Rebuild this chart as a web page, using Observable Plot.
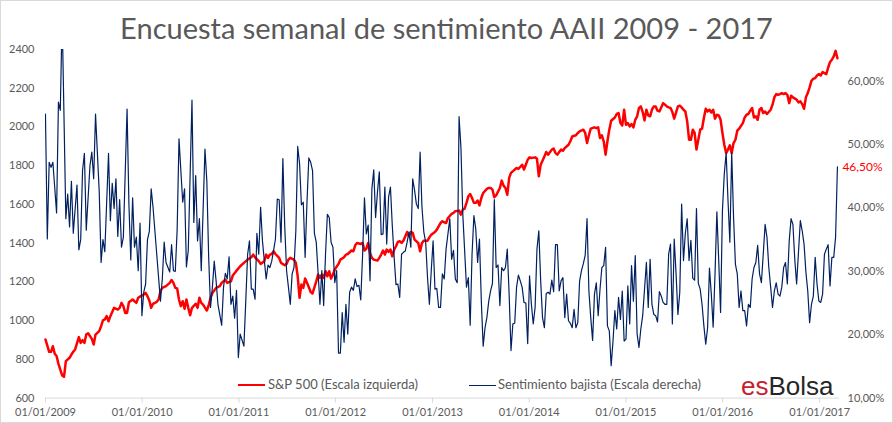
<!DOCTYPE html>
<html>
<head>
<meta charset="utf-8">
<script src="https://cdn.jsdelivr.net/npm/d3@7"></script>
<script src="https://cdn.jsdelivr.net/npm/@observablehq/plot@0.6"></script>
<style>
  html, body { margin: 0; padding: 0; background: #fff; }
  #wrap { position: relative; width: 891px; height: 421px; border: 1px solid #d9d9d9; overflow: hidden; font-family: Lato, "Open Sans", sans-serif; color: #595959; }
  #title { position: absolute; left: 0; top: 9px; width: 891px; text-align: center; font-size: 29px; line-height: 36px; color: #595959; white-space: nowrap; }
  #chart { position: absolute; left: -1px; top: 39px; }
  .leg { position: absolute; font-size: 13px; line-height: 15px; color: #595959; white-space: nowrap; }
  .legline { position: absolute; height: 0; }
  #logo { position: absolute; left: 740px; top: 372px; font-family: "Liberation Sans", Arial, sans-serif; font-size: 26px; line-height: 26px; white-space: nowrap; }
</style>
</head>
<body>
<div id="wrap">
  <div id="title">Encuesta semanal de sentimiento AAII 2009 - 2017</div>
  <div id="chart"></div>
  <div class="legline" style="left:237px; top:383px; width:27px; border-top:2.5px solid #ff0000;"></div>
  <div class="leg" style="left:267px; top:376px;">S&amp;P 500 (Escala izquierda)</div>
  <div class="legline" style="left:468px; top:384px; width:27px; border-top:1.3px solid #002060;"></div>
  <div class="leg" style="left:497px; top:376px;">Sentimiento bajista (Escala derecha)</div>
  <div id="logo"><span style="color:#c8202a">es</span><span style="color:#262626">Bolsa</span></div>
</div>
<script>
// ---- Data (weekly, week index counted from 01/01/2009) ----
const startDate = "2009-01-01";
const endDate = "2017-03-17";

const leftTicks = [600, 800, 1000, 1200, 1400, 1600, 1800, 2000, 2200, 2400];
const rightTicks = [10, 20, 30, 40, 50, 60];
const rightDomain = [10, 65];
const yearTicks = ["2009-01-01","2010-01-01","2011-01-01","2012-01-01","2013-01-01","2014-01-01","2015-01-01","2016-01-01","2017-01-01"];

// S&P 500 (left scale)
const spWeek = [0,2,3,4,5,6,7,9,10,11,13,14,15,16,18,19,20,21,22,23,25,26,27,29,30,31,32,33,34,35,36,37,39,40,41,42,43,44,45,47,48,49,50,51,53,54,55,56,57,58,60,61,62,63,65,67,68,69,70,71,72,73,74,75,76,77,78,79,81,82,83,84,85,87,88,89,90,92,94,95,97,98,100,101,103,105,
107,109,111,112,113,115,116,118,119,120,121,122,123,124,126,127,129,130,131,132,134,135,136,137,138,139,140,141,142,143,144,146,147,148,149,150,151,152,153,154,155,156,158,159,161,162,163,165,166,167,168,170,171,172,173,174,175,176,177,179,180,181,182,183,184,185,186,187,188,189,190,191,192,193,195,196,197,198,199,201,202,203,204,206,207,208,210,211,212,213,214,216,217,219,220,221,223,224,225,226,227,228,229,230,231,232,233,234,235,236,238,239,240,241,242,243,245,246,247,248,249,250,251,253,254,255,257,258,259,260,261,262,264,265,266,267,268,269,270,271,273,274,275,276,277,278,279,280,282,283,284,286,287,288,290,291,292,293,294,296,297,298,299,300,301,302,303,304,305,307,308,309,310,311,312,313,314,315,316,317,318,319,320,321,322,323,324,325,326,327,328,329,330,331,332,333,334,335,336,337,338,339,341,342,343,344,345,346,347,348,349,350,351,353,354,355,356,357,358,359,360,361,362,363,364,365,366,367,368,369,370,371,372,373,374,376,377,378,379,380,381,382,383,384,385,386,387,388,389,391,392,393,394,395,396,397,398,399,400,401,402,403,405,406,407,408,409,410,411,412,413,414,415,416,417,418,419,421,422,423,424,425,426,427];
const spValue = [903,839,839,868,829,817,777,717,710,791,808,825,839,851,915,885,899,885,928,935,906,877,928,946,971,1001,1006,1023,997,1023,1045,1066,1057,1066,1092,1075,1040,1040,1095,1109,1100,1092,1118,1124,1135,1143,1126,1104,1066,1087,1097,1109,1152,1169,1178,1195,1210,1195,1169,1166,1109,1075,1100,1061,1109,1066,1028,1066,1087,1066,1118,1092,1083,1052,1078,1118,1143,1169,1178,1195,1212,1195,1203,1233,1258,1281,
1298,1315,1327,1341,1327,1307,1293,1307,1341,1324,1341,1344,1358,1344,1324,1298,1286,1293,1315,1324,1315,1298,1229,1118,1186,1169,1217,1195,1172,1148,1140,1203,1238,1221,1238,1221,1255,1229,1255,1217,1238,1264,1293,1315,1327,1341,1344,1362,1358,1389,1401,1396,1401,1362,1372,1401,1350,1324,1315,1310,1324,1341,1362,1341,1367,1355,1367,1332,1367,1384,1406,1410,1401,1413,1458,1436,1458,1453,1418,1401,1358,1401,1413,1413,1430,1444,1458,1470,1487,1504,1513,1504,1530,1551,1556,1565,1568,1547,1573,1578,1608,1642,1654,1633,1608,1608,1620,1595,1633,1659,1680,1685,1685,1676,1637,1647,1685,1723,1697,1685,1650,1737,1763,1780,1788,1783,1805,1780,1805,1831,1843,1840,1843,1836,1745,1805,1826,1848,1871,1857,1883,1888,1865,1857,1871,1883,1877,1891,1908,1926,1951,1957,1969,1977,1986,1969,1917,1957,1991,1998,1994,1998,1943,1957,1926,1857,1926,1986,2032,2049,2067,2072,2020,2008,2089,2011,2020,2003,2015,1998,2037,2055,2098,2106,2077,2034,2089,2060,2055,2089,2106,2106,2084,2080,2101,2123,2115,2106,2101,2098,2077,2043,2106,2110,2101,2089,2080,2029,1934,1934,1986,1969,1883,1986,1991,2046,2094,2080,2089,2075,2089,2043,2063,2060,2037,1969,1908,1865,1883,1905,1865,1917,1934,1981,1991,2020,2049,2063,2067,2084,2098,2049,2055,2037,2089,2098,2072,2080,2067,2089,2115,2153,2170,2166,2170,2175,2170,2175,2166,2123,2161,2153,2141,2127,2132,2118,2094,2153,2175,2204,2238,2249,2252,2266,2273,2266,2283,2273,2307,2335,2347,2364,2393,2355];

// AAII bearish sentiment, % (right scale)
const bearWeek = [0,1,2,3,4,6,7,8,9,11,12,13,14,15,17,18,19,20,21,22,24,25,26,27,29,30,31,32,34,35,36,37,38,39,40,41,42,44,45,46,47,48,49,50,51,52,53,54,55,56,57,58,60,62,63,64,65,67,68,69,70,71,72,74,75,76,77,79,80,81,82,83,84,86,87,88,89,90,91,92,93,95,96,97,98,99,100,101,102,103,104,105,
107,108,109,110,111,112,113,114,115,116,117,118,119,120,121,122,123,124,125,126,127,128,129,130,131,132,133,134,135,136,137,138,139,140,141,142,143,144,145,146,148,149,150,151,152,153,154,155,156,157,158,159,160,161,162,163,164,165,166,167,168,169,170,171,172,173,174,175,176,177,178,179,180,181,182,183,184,185,186,187,188,189,190,191,192,193,194,195,196,197,198,199,200,201,202,203,204,205,206,207,208,209,210,211,212,213,214,215,216,218,219,220,221,222,223,224,225,227,228,229,230,231,232,233,234,235,236,237,238,239,240,241,242,243,244,245,246,247,248,249,250,251,252,253,254,255,256,257,258,259,260,261,262,263,264,265,266,267,268,269,270,271,272,273,274,275,276,277,278,279,280,281,282,283,284,285,286,287,288,289,290,291,292,293,294,295,296,297,298,299,300,301,302,303,304,305,306,307,308,309,310,311,312,313,314,315,316,317,318,319,320,321,322,324,325,326,327,328,329,330,331,332,333,334,335,336,337,338,339,340,341,342,343,344,345,346,
347,348,349,350,351,352,353,354,355,356,357,358,359,360,361,362,363,364,365,366,367,368,369,370,371,372,373,374,375,376,377,378,379,380,381,382,383,384,385,386,387,388,389,390,391,392,393,394,395,396,397,398,399,400,401,402,403,404,405,406,407,408,409,410,411,412,413,414,415,416,417,418,419,420,421,422,423,424,425,426,427];
const bearPct = [54.8,35.1,47.2,46.4,47.2,39.2,56.7,55.4,70.3,38.3,42.2,37,44.2,36,43.6,33.4,35,45.9,48.6,36.5,46.7,48.8,44.6,54.8,42.5,31.4,35,33.1,48.6,38,43.9,39.9,44.6,35.5,41.3,33.8,35.4,55.6,40.6,31.8,41.6,33.8,35.4,30.1,37.6,23,26.7,28,35,36.3,43,40.1,32.7,25.3,28.8,34.6,31.4,29.9,34.2,30.1,30,36.5,50.9,40.9,43,30.7,33.3,57,37.7,45.1,34.8,38.3,30.1,49.3,44.3,32.2,24.3,27.5,31.6,28.5,24.8,21.5,27.5,29.7,28.8,32.3,24.8,26.1,22.6,27,16.4,20.1,
18.2,25.3,32.7,34.8,27.2,27.2,25.6,36,32.7,40.1,34.8,31.7,28.8,31,30.6,31.6,33.3,35.1,41.4,41.3,34.6,47.8,37.2,30.1,27.5,24.8,29.6,30.6,36.4,49.7,47,40.5,40.9,32.2,40.9,47.9,47.2,45.9,36,34.6,24.8,30.1,24.6,32.7,39,38.5,34.6,33.8,28.2,30.1,17.1,17.1,23.5,18.8,24.8,20.1,26.7,27.5,27,28.8,27.6,27.8,25.5,32.7,41.6,35.9,37.3,28.5,43,46,38.5,42.5,45.7,35.8,35.9,43.3,34.3,41.7,43.3,37.2,32.2,27.9,28,25.9,32.7,33,33.2,34.6,36.2,33.8,44.6,42.8,40.6,39.9,48.8,40.1,36.2,34.6,29,24.8,30.1,34.8,27.2,27.3,24.3,24.3,29.6,28.8,33.5,38.3,31.9,33.3,28.8,28.2,54.4,49.6,39.1,27.5,29,21.5,32.7,38.8,36.7,31.4,35.1,25.3,18.2,21.1,22.7,25.3,26.9,28.1,41.3,30.6,31,24.6,30.6,30.1,30.6,33.5,26.3,17.5,21.7,21.8,27.5,29.4,28.5,27.5,25.1,25,18.6,29.3,24.8,21.7,24.3,33.5,36.4,28.5,22.7,21.1,26.5,26.7,26.4,28.6,26.8,34.2,34.2,26.9,28.5,29,22.7,26.4,22.2,21.8,21.1,24,21.1,21.9,28.5,30.1,31.2,32.5,38.3,26.9,22.7,19.1,26.4,28.2,23,27.2,30.6,30.9,33.8,21.4,20.6,15.1,19,23.8,20.9,25.9,22.4,26.9,19,19.3,27.7,21.7,30.9,25.3,32.5,20.1,18,20.9,23,31.4,24.3,31.9,24.8,23.2,23,22,26.8,26.1,25.1,24.8,24.8,32.7,34.3,21.7,35.1,29.6,23.2,26.7,40.6,31.7,36,38.3,
31.7,34.9,28.9,28.6,39.9,28.1,27.2,24.8,21.4,18.5,21.1,30.5,26.4,21.2,29.6,39.4,31.7,23.5,39.6,45.4,48.7,41.2,34.6,48.7,38.5,31.1,29.6,24.3,26.9,23.8,23.8,21.4,24.8,24.3,28.8,30.6,31.4,34.1,29.6,28.2,32.7,37.4,35.4,30.6,27.5,24.3,26.9,28.2,26.4,26.1,27.5,30.6,31.4,28,34.8,38.3,37.4,31.9,28,33,38,36.4,34.3,29.9,26.9,21.9,24.8,26.1,32.2,28,25.3,25.1,26.4,32.7,33.5,34.2,27.7,32.2,32.2,35.4,46.5];

const lastLabel = "46,50%";

// ---- Build ----
const start = new Date(startDate + "T00:00:00Z");
const weekDate = w => new Date(start.getTime() + w * 7 * 864e5);
const leftDomain = [leftTicks[0], leftTicks[leftTicks.length - 1]];
const toLeft = p => leftDomain[0] + (p - rightDomain[0]) * (leftDomain[1] - leftDomain[0]) / (rightDomain[1] - rightDomain[0]);
const toRight = v => rightDomain[0] + (v - leftDomain[0]) * (rightDomain[1] - rightDomain[0]) / (leftDomain[1] - leftDomain[0]);
const fmtPct = p => p.toFixed(2).replace(".", ",") + "%";
const years = yearTicks.map(d => new Date(d + "T00:00:00Z"));

const sp = spWeek.map((w, i) => ({date: weekDate(w), value: spValue[i]}));
const bear = bearWeek.map((w, i) => ({date: weekDate(w), pct: bearPct[i], y: toLeft(bearPct[i])}));
const last = bear[bear.length - 1];

const chart = Plot.plot({
  width: 893,
  height: 384,
  marginTop: 9,
  marginBottom: 26,
  marginLeft: 45,
  marginRight: 53,
  style: {fontFamily: "Lato, 'Open Sans', sans-serif", fontSize: "11px", color: "#595959", background: "transparent", overflow: "visible"},
  x: {type: "utc", domain: [start, new Date(endDate + "T00:00:00Z")]},
  y: {type: "linear", domain: leftDomain},
  marks: [
    Plot.ruleY([leftDomain[0]], {stroke: "#d9d9d9", strokeWidth: 1}),
    Plot.axisX({ticks: years, tickFormat: d3.utcFormat("%d/%m/%Y"), tickSize: 5, tickPadding: 5, stroke: "#d9d9d9", fill: "#595959", label: null}),
    Plot.axisY({ticks: leftTicks, tickFormat: d => String(d), tickSize: 0, tickPadding: 11, fill: "#595959", label: null}),
    Plot.axisY({anchor: "right", ticks: rightTicks.map(toLeft), tickFormat: d => fmtPct(Math.round(toRight(d))), tickSize: 0, tickPadding: 8, fill: "#595959", label: null}),
    Plot.line(sp, {x: "date", y: "value", stroke: "#ff0000", strokeWidth: 2.5}),
    Plot.line(bear, {x: "date", y: "y", stroke: "#002060", strokeWidth: 1.2, clip: true}),
    Plot.text([last], {x: "date", y: "y", text: () => lastLabel, dx: 5, textAnchor: "start", fill: "#ff0000", fontSize: 12})
  ]
});
document.getElementById("chart").appendChild(chart);
</script>
</body>
</html>
